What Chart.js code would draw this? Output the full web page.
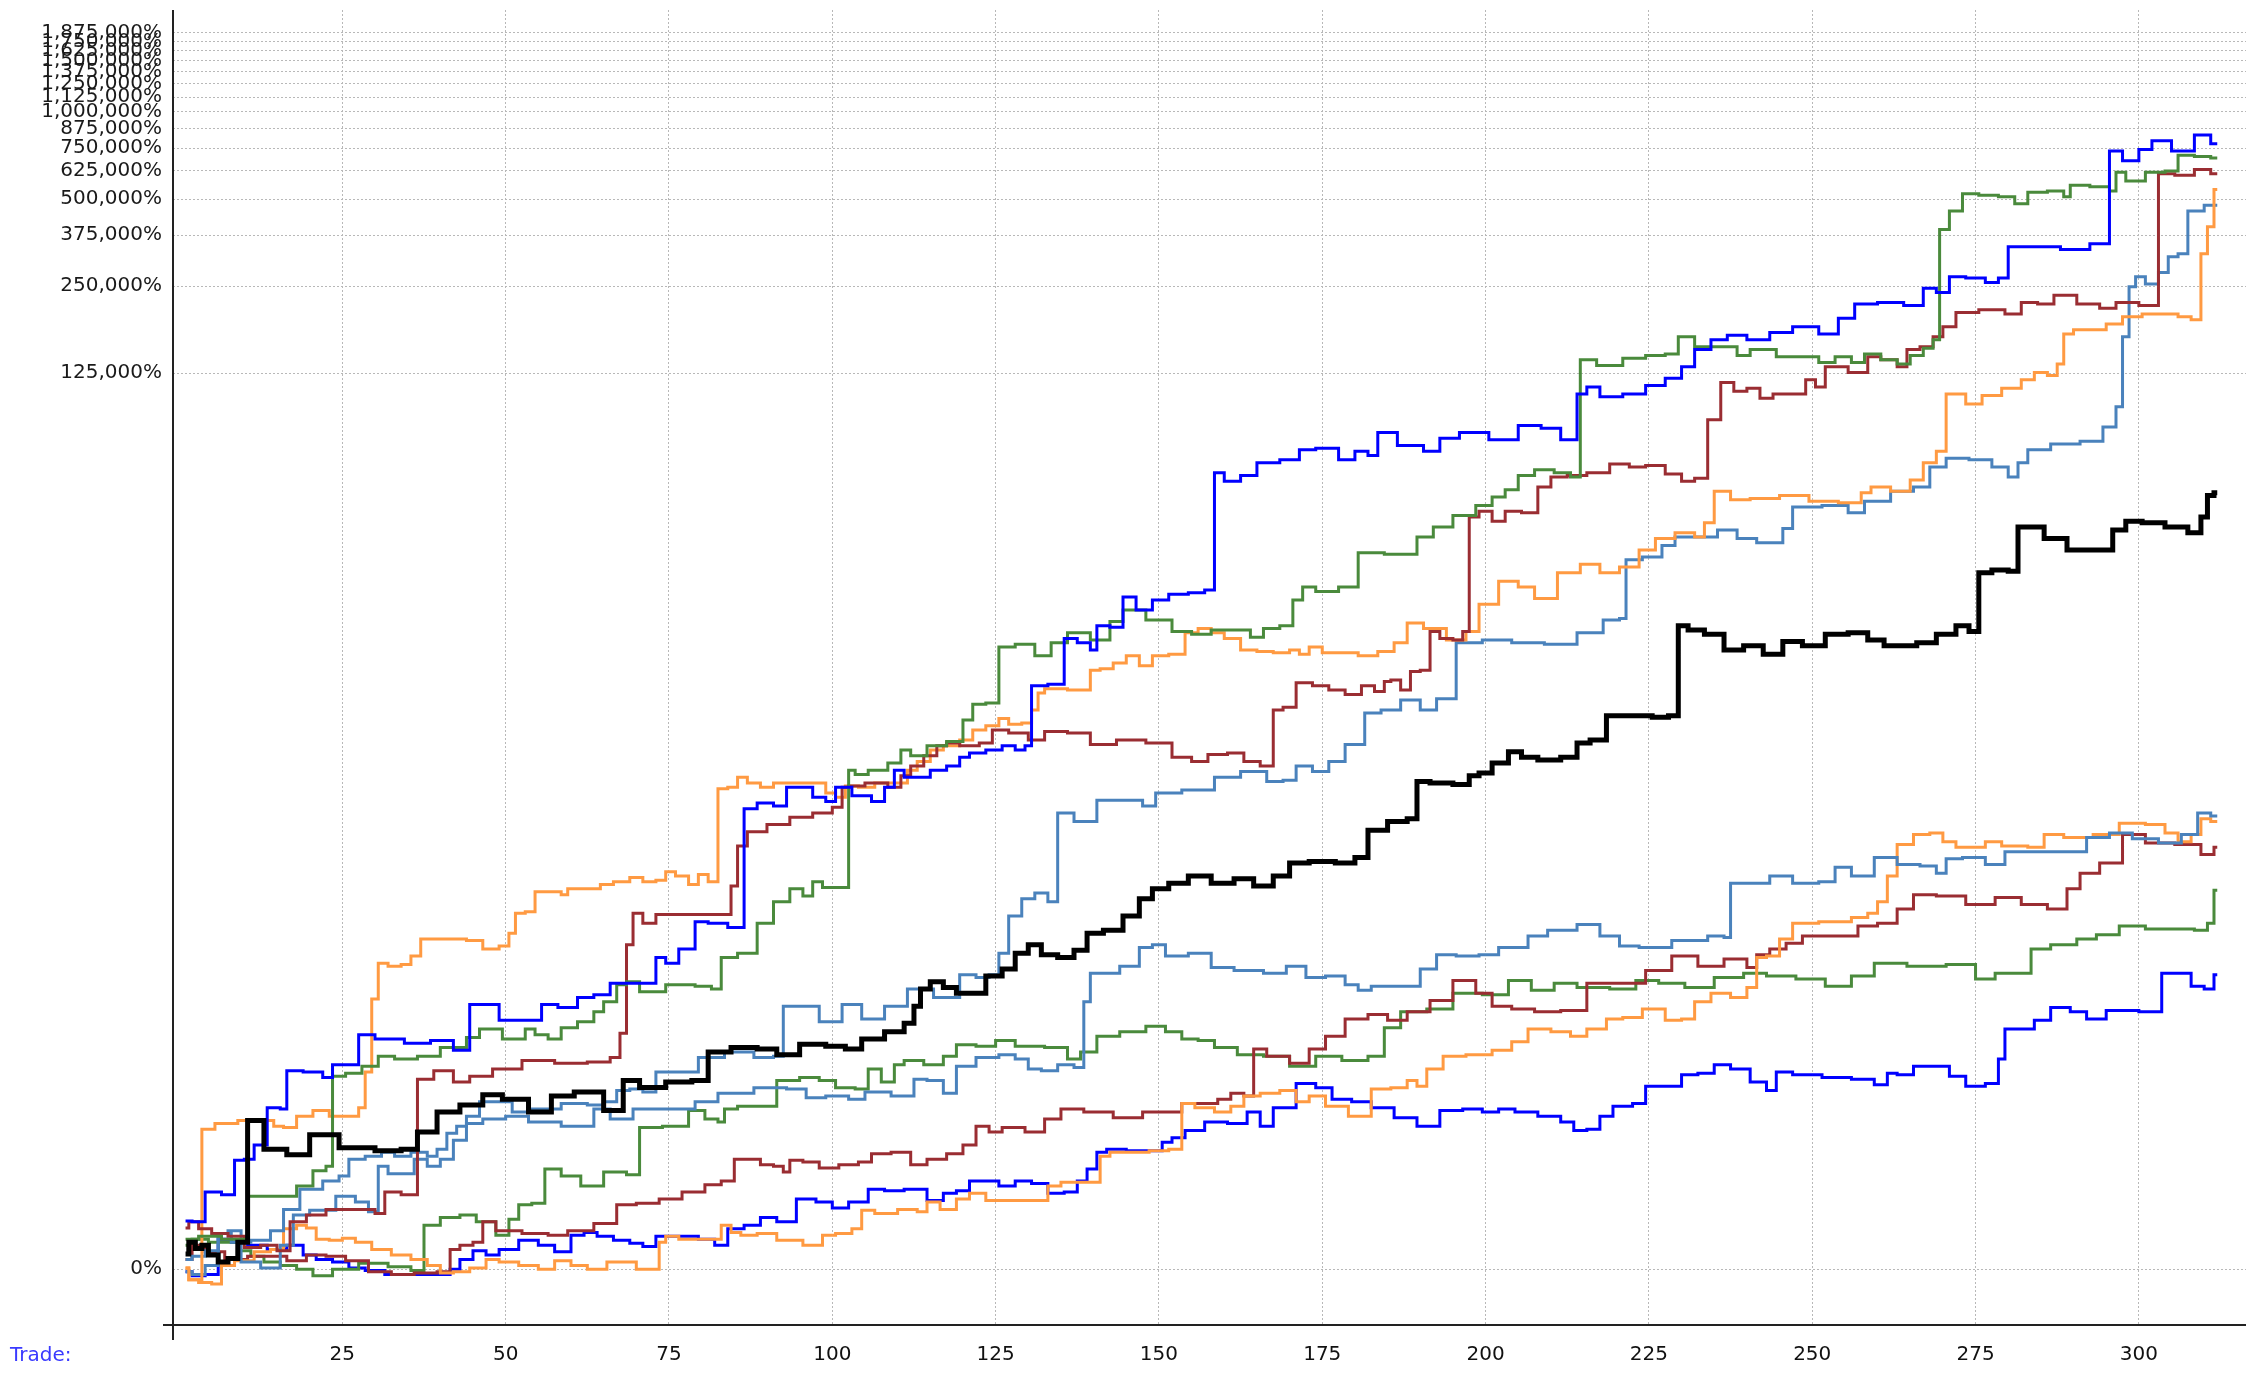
<!DOCTYPE html>
<html>
<head>
<meta charset="utf-8">
<title>Equity curves by trade</title>
<script src="https://cdn.jsdelivr.net/npm/chart.js@4.4.1/dist/chart.umd.min.js"></script>
<style>
  html, body { margin: 0; padding: 0; background: #fff; }
  #wrap { width: 2246px; height: 1373px; position: relative; }
</style>
</head>
<body>
<div id="wrap"><canvas id="equityChart"></canvas></div>
<script>
// each series: [trade number, return in %]
const median = [[1,13],[2,24],[3,18],[4,21],[5,12],[7,6],[8,9],[10,24],[11,227],[15,160],[18,149],[22,192],[27,163],[33,157],[35,160],[38,198],[41,250],[45,270],[48,301],[51,287],[56,250],[58,297],[63,310],[67,254],[69,349],[72,325],[77,344],[80,349],[82,464],[87,484],[90,477],[93,451],[97,500],[101,490],[103,477],[106,525],[110,562],[112,608],[113,712],[114,831],[116,885],[118,841],[120,800],[122,800],[125,931],[127,992],[129,1138],[131,1224],[133,1123],[136,1096],[138,1166],[140,1351],[143,1384],[146,1563],[148,1807],[150,1965],[153,2061],[156,2188],[160,2061],[163,2136],[166,2012],[169,2188],[171,2434],[175,2465],[179,2434],[181,2552],[183,3192],[187,3426],[189,3508],[190,4750],[193,4694],[197,4639],[198,4977],[200,5091],[202,5522],[205,6053],[206,5783],[210,5652],[213,5783],[215,6493],[217,6646],[220,8084],[224,8084],[227,7993],[229,8084],[230,16670],[232,16100],[235,15560],[238,13720],[241,14190],[244,13250],[247,14690],[250,14190],[254,15560],[257,15750],[260,14870],[262,14190],[265,14190],[267,14530],[271,15560],[273,16670],[275,15920],[276,25450],[279,26040],[281,25740],[282,36670],[284,36670],[287,33480],[291,30550],[295,30550],[297,35840],[299,38390],[302,37930],[306,36670],[309,35050],[310,39720],[311,47150],[312,48230]];

const blueHigh = [[1,47],[3,46],[5,85],[8,81],[9,138],[11,140],[12,169],[15,262],[16,258],[17,386],[21,381],[23,360],[24,409],[27,409],[28,547],[32,525],[37,504],[40,518],[44,471],[45,722],[47,722],[51,625],[55,625],[56,722],[60,703],[62,769],[65,789],[67,874],[72,874],[74,1096],[75,1043],[78,1180],[80,1489],[82,1470],[86,1418],[87,3803],[90,3987],[92,3895],[94,4532],[96,4532],[98,4179],[100,4034],[101,4532],[105,4228],[107,4034],[109,4532],[110,5210],[112,4916],[114,4916],[116,5210],[119,5392],[120,5783],[122,5989],[125,6129],[127,6344],[129,6129],[130,6344],[131,10300],[135,10420],[136,15040],[139,14530],[140,13720],[141,16670],[144,16470],[145,20950],[148,18900],[150,20470],[153,21420],[156,21680],[158,22190],[159,56560],[161,52850],[164,55320],[166,61260],[171,62680],[172,67900],[176,68660],[179,62680],[181,67070],[183,64850],[184,77890],[189,70250],[192,67070],[194,74400],[198,77890],[203,73550],[207,82420],[210,80550],[213,73550],[215,105800],[216,112000],[219,103500],[223,105800],[226,113300],[229,120000],[231,131500],[233,150800],[236,163200],[238,168900],[242,163200],[245,172900],[249,180800],[253,170800],[255,193700],[258,217000],[262,219400],[266,214400],[268,246000],[270,237800],[272,269300],[275,266400],[278,257400],[279,266400],[281,342300],[286,342300],[290,334500],[295,349900],[296,733300],[299,677600],[301,742300],[303,794400],[307,733300],[310,831600],[312,776500]];

const greenHigh = [[1,27],[5,30],[8,27],[10,27],[11,79],[17,79],[19,94],[22,119],[23,127],[24,365],[27,376],[29,403],[32,445],[34,433],[39,445],[41,484],[43,484],[45,532],[47,577],[49,577],[50,525],[52,525],[54,577],[55,547],[58,525],[59,584],[63,617],[64,676],[66,740],[68,863],[69,885],[72,810],[77,863],[81,852],[82,831],[84,1096],[87,1138],[90,1470],[92,1764],[95,1965],[96,1852],[98,2086],[99,1988],[102,1988],[103,5210],[104,5032],[107,5210],[110,5522],[111,6129],[113,5850],[116,6344],[119,6568],[121,7810],[122,8870],[125,8968],[126,14040],[130,14360],[132,13100],[135,14530],[137,15750],[142,14870],[143,17250],[146,18900],[150,17440],[154,15920],[156,15560],[160,16100],[163,16100],[165,15200],[167,16290],[170,16670],[171,20470],[173,22700],[175,21930],[180,22700],[181,29870],[188,29520],[191,33830],[193,36670],[197,40180],[200,43520],[202,46610],[204,49360],[206,55320],[209,57860],[212,56560],[214,54670],[215,139200],[219,132900],[223,140800],[226,144000],[229,145700],[230,166900],[234,154300],[238,154300],[239,144000],[242,150800],[247,142400],[250,142400],[252,136000],[255,142400],[257,136000],[259,145700],[262,139200],[264,134500],[266,144000],[268,152500],[269,163200],[270,392200],[272,454900],[274,521000],[277,515600],[280,509600],[282,481700],[284,527400],[288,533300],[289,509600],[290,558000],[295,551700],[296,533300],[297,618200],[299,577600],[303,618200],[305,625300],[307,709000],[310,701100],[312,693100]];

const brownHigh = [[1,39],[2,46],[4,38],[6,33],[9,30],[11,19],[14,21],[16,16],[18,46],[21,54],[24,61],[29,61],[31,56],[32,85],[36,81],[37,354],[41,386],[43,344],[46,365],[50,392],[55,427],[60,415],[65,421],[67,439],[68,554],[69,1224],[70,1601],[72,1470],[74,1582],[84,1582],[85,2012],[86,2805],[88,3155],[92,3347],[95,3548],[99,3674],[101,3851],[102,4532],[103,4585],[107,4694],[110,4532],[111,4977],[113,5392],[115,5850],[117,6344],[118,6493],[121,6344],[124,6493],[125,7204],[129,7044],[131,6646],[134,7122],[138,7044],[141,6418],[146,6646],[150,6493],[154,5783],[156,5589],[159,5920],[162,5989],[164,5589],[167,5392],[168,8469],[170,8665],[172,10540],[175,10300],[177,9950],[180,9602],[182,10300],[184,9830],[185,10660],[186,10780],[188,9950],[189,11540],[191,11670],[192,15920],[194,15040],[196,14870],[197,15920],[198,39720],[200,41590],[202,38390],[204,41590],[207,41110],[209,50470],[211,54670],[214,55320],[217,56560],[221,60580],[223,59220],[226,59850],[229,55930],[231,52850],[233,54060],[235,86250],[237,116000],[239,108300],[241,110800],[243,102300],[245,105800],[248,105800],[250,118500],[251,112000],[253,131500],[258,125600],[259,142400],[262,139200],[264,131500],[265,150800],[268,154300],[269,166900],[271,180800],[273,202600],[278,207300],[281,200300],[283,219400],[286,217000],[288,232400],[293,217000],[295,209500],[298,219400],[302,214400],[304,611300],[307,604700],[310,632400],[312,611300]];

const orangeHigh = [[1,1],[2,-8],[3,-8],[4,205],[7,219],[11,227],[14,227],[15,212],[17,209],[19,238],[22,254],[24,238],[27,238],[28,262],[29,381],[30,759],[31,1043],[33,1016],[35,1030],[36,1109],[38,1286],[43,1286],[45,1270],[48,1180],[50,1209],[51,1351],[52,1601],[54,1621],[55,1919],[58,1919],[59,1872],[60,1965],[64,1965],[65,2036],[68,2086],[70,2161],[72,2086],[74,2109],[75,2267],[77,2188],[79,2036],[80,2213],[82,2086],[83,4480],[85,4532],[86,4916],[88,4694],[90,4532],[92,4694],[98,4694],[100,4328],[101,4179],[103,4585],[105,4532],[108,4694],[111,4694],[112,5210],[114,5589],[116,6129],[118,6344],[121,6646],[122,7204],[125,7460],[126,7905],[128,7547],[130,7628],[131,8469],[132,9721],[133,10060],[139,9950],[140,11670],[142,11810],[144,12370],[146,13100],[148,12080],[150,13100],[153,13250],[155,15750],[157,16290],[159,15750],[161,15040],[164,13720],[166,13550],[169,13410],[171,13720],[172,13250],[174,14040],[176,13410],[179,13410],[182,13100],[185,13550],[187,14530],[189,17040],[192,16290],[196,14870],[198,15920],[200,19790],[204,23770],[206,22700],[209,20710],[213,25450],[216,27260],[219,25450],[222,26650],[225,30550],[227,33480],[231,35050],[233,33830],[234,37930],[236,48780],[239,45550],[242,46070],[248,47150],[251,45030],[257,44530],[258,48230],[260,50470],[264,48780],[266,53400],[268,61260],[270,67070],[271,105800],[272,105800],[275,97810],[277,104700],[281,110800],[283,118500],[285,125600],[287,122800],[288,134500],[289,170800],[291,176700],[294,176700],[296,185000],[299,195800],[302,200300],[305,200300],[307,195800],[309,191400],[310,323200],[311,401200],[312,539700]];

const steelHigh = [[1,8],[3,11],[5,16],[7,33],[9,24],[13,26],[15,36],[17,61],[20,89],[24,102],[25,110],[27,140],[30,146],[32,154],[34,146],[37,154],[39,146],[40,160],[42,195],[43,212],[45,238],[47,279],[50,279],[52,250],[56,258],[61,274],[64,270],[66,279],[68,315],[70,320],[72,310],[74,381],[78,381],[81,439],[86,464],[90,439],[92,445],[93,712],[96,712],[100,617],[103,722],[106,633],[110,712],[113,831],[118,769],[121,943],[123,919],[125,943],[126,1138],[128,1563],[130,1807],[132,1896],[134,1764],[135,3674],[139,3426],[142,4082],[146,4082],[149,3895],[150,4328],[157,4431],[160,4916],[165,5151],[168,4750],[170,4801],[172,5392],[175,5151],[177,5589],[180,6418],[183,8272],[185,8469],[189,9175],[191,8469],[194,9281],[197,14530],[202,14870],[206,14530],[212,14360],[216,15750],[220,17440],[221,17650],[222,28210],[226,28850],[228,31610],[230,33830],[234,33830],[237,35840],[240,33480],[243,32340],[245,32340],[246,36250],[248,43040],[255,43520],[256,41110],[260,45030],[264,48780],[267,50470],[269,59220],[272,63390],[276,62680],[279,59220],[281,54670],[282,61260],[284,67900],[289,71060],[293,72700],[296,81460],[297,95570],[298,166900],[299,248700],[300,269300],[302,254400],[304,278700],[305,315900],[307,323200],[308,454900],[312,476000]];

const steelLow = [[1,-2],[3,-4],[5,3],[7,33],[8,36],[11,6],[14,1],[17,21],[18,54],[22,60],[26,79],[28,71],[30,58],[31,127],[33,114],[35,114],[37,140],[39,127],[41,140],[43,179],[45,219],[48,231],[52,238],[55,223],[62,212],[65,258],[67,231],[72,258],[78,258],[80,279],[85,306],[91,324],[95,320],[97,292],[101,297],[104,287],[106,310],[112,297],[113,354],[116,349],[118,306],[120,403],[124,439],[127,451],[129,433],[131,392],[133,386],[136,409],[138,398],[139,740],[140,955],[142,955],[146,1016],[148,1195],[150,1224],[152,1109],[157,1138],[159,1005],[164,979],[168,955],[171,1016],[174,919],[177,931],[180,863],[181,821],[184,852],[189,852],[191,992],[194,1123],[197,1109],[201,1123],[203,1195],[206,1195],[207,1318],[212,1384],[216,1454],[219,1318],[222,1210],[225,1195],[232,1270],[236,1318],[237,1301],[238,2061],[242,2061],[245,2188],[249,2061],[253,2086],[254,2350],[258,2188],[261,2552],[265,2406],[268,2376],[270,2240],[271,2522],[275,2552],[278,2406],[281,2674],[290,2674],[294,3008],[297,3120],[301,2976],[305,2872],[308,3082],[310,3674],[312,3589]];

const orangeLow = [[1,1],[2,-8],[4,-10],[6,-11],[7,3],[10,7],[13,15],[15,17],[17,38],[19,42],[20,39],[22,27],[24,26],[26,28],[28,24],[31,17],[34,12],[37,8],[39,3],[41,-3],[43,-2],[46,1],[48,8],[50,6],[54,3],[56,0],[59,7],[61,3],[64,0],[67,6],[69,6],[71,0],[73,0],[74,24],[75,30],[78,27],[82,27],[84,42],[85,34],[87,31],[90,33],[93,26],[98,21],[99,31],[102,33],[104,38],[105,60],[108,56],[112,61],[114,58],[115,71],[118,61],[120,75],[122,83],[125,73],[132,73],[134,94],[136,100],[140,100],[142,146],[143,154],[147,154],[150,157],[153,160],[154,274],[157,262],[160,250],[162,266],[164,297],[167,306],[170,315],[172,279],[174,297],[177,266],[181,238],[184,320],[187,324],[189,349],[190,329],[192,392],[195,445],[199,451],[203,471],[205,511],[208,577],[212,562],[214,539],[217,577],[220,633],[222,641],[226,694],[229,625],[231,633],[233,740],[236,800],[239,769],[241,841],[242,1096],[244,1109],[246,1286],[248,1470],[254,1489],[258,1544],[259,1601],[261,1764],[262,2188],[264,2838],[267,3082],[269,3120],[271,2906],[273,2774],[276,2774],[277,2906],[281,2805],[285,2774],[286,3082],[291,3008],[295,3082],[299,3383],[303,3347],[305,3120],[307,2906],[309,3082],[310,3508],[312,3426]];

const brownLow = [[1,8],[3,21],[5,15],[9,8],[12,11],[15,11],[18,7],[21,12],[24,11],[27,7],[31,-2],[34,-4],[38,-3],[41,-2],[42,17],[44,21],[46,24],[47,46],[50,36],[55,33],[58,31],[61,36],[66,44],[68,67],[72,69],[75,75],[79,85],[82,96],[84,102],[86,140],[88,140],[90,130],[92,127],[93,117],[94,138],[97,135],[99,124],[103,130],[105,135],[107,151],[111,154],[113,130],[116,140],[119,151],[121,169],[123,212],[125,198],[127,209],[132,198],[133,231],[137,258],[140,250],[146,234],[149,250],[153,250],[154,274],[158,274],[160,287],[162,306],[164,297],[165,477],[168,445],[172,415],[174,477],[177,539],[180,633],[184,659],[186,625],[190,676],[193,750],[197,896],[200,800],[202,712],[206,694],[209,676],[214,685],[217,874],[223,874],[226,979],[231,1109],[234,1016],[239,1082],[241,1005],[242,1123],[245,1180],[247,1239],[250,1318],[256,1318],[258,1436],[262,1470],[264,1659],[267,1872],[271,1852],[276,1723],[280,1829],[284,1723],[288,1659],[290,1965],[292,2240],[296,2434],[299,3082],[303,2872],[308,2838],[311,2614],[312,2774]];

const greenLow = [[1,21],[3,27],[6,24],[8,24],[10,16],[12,11],[14,6],[17,3],[19,0],[22,-5],[25,0],[30,5],[34,2],[37,-1],[38,42],[42,51],[44,54],[47,46],[50,31],[51,49],[53,67],[55,69],[57,122],[60,110],[63,94],[67,117],[70,112],[71,209],[77,212],[79,254],[82,231],[83,223],[84,258],[87,266],[90,266],[93,349],[97,360],[99,349],[102,324],[105,320],[106,392],[109,344],[110,409],[112,427],[116,409],[118,445],[120,497],[124,490],[126,518],[130,490],[135,484],[137,433],[139,464],[142,539],[146,562],[150,592],[152,562],[155,525],[157,518],[160,484],[164,451],[168,445],[172,403],[176,445],[180,427],[184,445],[185,584],[189,676],[193,694],[197,800],[202,789],[205,896],[209,821],[212,874],[216,841],[222,831],[224,896],[229,874],[232,841],[238,919],[241,955],[245,931],[250,908],[254,852],[258,931],[261,1043],[268,1016],[273,1030],[277,908],[279,955],[283,955],[284,1180],[289,1224],[292,1286],[295,1334],[299,1436],[303,1401],[307,1401],[310,1384],[311,1470],[312,1943]];

const blueLow = [[1,-2],[3,-5],[5,-4],[7,27],[9,24],[12,21],[15,17],[18,21],[20,12],[22,8],[25,6],[27,1],[30,-1],[33,-4],[37,-4],[41,-4],[42,0],[44,8],[46,16],[48,12],[50,17],[54,26],[56,21],[59,15],[61,31],[63,34],[65,30],[68,26],[70,23],[72,20],[74,30],[78,30],[81,27],[83,21],[85,38],[88,42],[90,51],[93,46],[96,75],[99,71],[101,63],[104,71],[107,89],[109,87],[113,89],[116,73],[118,83],[120,87],[122,102],[124,102],[127,94],[129,102],[132,98],[134,83],[137,85],[138,102],[140,122],[141,154],[143,160],[147,157],[150,157],[151,175],[153,185],[155,202],[159,223],[162,219],[165,250],[166,212],[169,262],[173,339],[175,324],[178,287],[181,279],[184,262],[188,234],[191,212],[195,254],[198,258],[201,250],[203,258],[206,250],[210,238],[213,223],[214,202],[217,205],[218,238],[221,266],[224,274],[225,329],[229,329],[231,370],[234,376],[236,409],[239,392],[242,344],[244,315],[245,381],[249,370],[254,360],[258,354],[261,334],[262,376],[264,370],[267,403],[270,403],[272,365],[275,329],[278,339],[279,433],[280,577],[283,577],[285,625],[288,703],[291,676],[293,633],[297,685],[303,676],[304,955],[307,955],[309,852],[311,831],[312,943]];

const yTickPct = [0, 125000, 250000, 375000, 500000, 625000, 750000, 875000, 1000000,
                  1125000, 1250000, 1375000, 1500000, 1625000, 1750000, 1875000];
const xTickTrades = [25, 50, 75, 100, 125, 150, 175, 200, 225, 250, 275, 300];

// plotted on a log scale of the equity multiple (1 + pct/100)
function toPoints(pairs) {
  return pairs.map(p => ({ x: p[0], y: 1 + p[1] / 100 }));
}

const series = [
  { name: 'Median', data: median, color: '#000000', width: 5 },
  { name: 'Run 1', data: blueHigh, color: '#0000ff', width: 3 },
  { name: 'Run 2', data: greenHigh, color: '#4a8a3c', width: 3 },
  { name: 'Run 3', data: brownHigh, color: '#9a2d32', width: 3 },
  { name: 'Run 4', data: orangeHigh, color: '#ff9a42', width: 3 },
  { name: 'Run 5', data: steelHigh, color: '#4a82bc', width: 3 },
  { name: 'Run 6', data: steelLow, color: '#4a82bc', width: 3 },
  { name: 'Run 7', data: orangeLow, color: '#ff9a42', width: 3 },
  { name: 'Run 8', data: brownLow, color: '#9a2d32', width: 3 },
  { name: 'Run 9', data: greenLow, color: '#4a8a3c', width: 3 },
  { name: 'Run 10', data: blueLow, color: '#0000ff', width: 3 }
];

const datasets = series.map(s => ({
  label: s.name,
  data: toPoints(s.data),
  borderColor: s.color,
  borderWidth: s.width,
  pointRadius: 0,
  stepped: 'middle',
  fill: false
}));

// axis lines that stick out past the corner, plus the "Trade:" caption
const axisLines = {
  id: 'axisLines',
  afterDraw(chart) {
    const ctx = chart.ctx;
    const a = chart.chartArea;
    ctx.save();
    ctx.strokeStyle = '#222';
    ctx.lineWidth = 2;
    ctx.beginPath();
    ctx.moveTo(a.left, 10);
    ctx.lineTo(a.left, a.bottom + 15);
    ctx.moveTo(a.left - 10, a.bottom);
    ctx.lineTo(chart.width, a.bottom);
    ctx.stroke();
    ctx.fillStyle = '#3a3aff';
    ctx.font = '20px "DejaVu Sans"';
    ctx.textBaseline = 'middle';
    ctx.textAlign = 'left';
    ctx.fillText('Trade:', 10, 1356);
    ctx.restore();
  }
};

Chart.defaults.font.family = '"DejaVu Sans", sans-serif';

const gridStyle = { color: '#b8b8b8', lineWidth: 1, drawTicks: false };
const borderStyle = { display: false, dash: [2, 2] };

new Chart(document.getElementById('equityChart').getContext('2d'), {
  type: 'line',
  data: { datasets: datasets },
  options: {
    responsive: true,
    maintainAspectRatio: false,
    animation: false,
    devicePixelRatio: 1,
    layout: { padding: { top: 10, left: 0, right: 0, bottom: 0 } },
    plugins: {
      legend: { display: false },
      tooltip: { enabled: false }
    },
    scales: {
      x: {
        type: 'linear',
        min: -0.92,
        max: 316.4,
        bounds: 'data',
        afterBuildTicks: function(scale) {
          scale.ticks = xTickTrades.map(v => ({ value: v }));
        },
        afterFit: function(scale) {
          scale.height = 48;
          scale.paddingLeft = 0;
          scale.paddingRight = 0;
        },
        grid: gridStyle,
        border: borderStyle,
        ticks: {
          padding: 18,
          color: '#111',
          font: { size: 20 },
          maxRotation: 0,
          autoSkip: false
        }
      },
      y: {
        type: 'logarithmic',
        min: 0.6419,
        max: 22510,
        bounds: 'data',
        afterBuildTicks: function(scale) {
          scale.ticks = yTickPct.map(p => ({ value: 1 + p / 100 }));
        },
        afterFit: function(scale) {
          scale.width = 173;
          scale.paddingTop = 0;
          scale.paddingBottom = 0;
        },
        grid: gridStyle,
        border: borderStyle,
        ticks: {
          padding: 11,
          color: '#1a1a1a',
          font: { size: 20 },
          autoSkip: false,
          callback: function(value) {
            return Math.round((value - 1) * 100).toLocaleString('en-US') + '%';
          }
        }
      }
    }
  },
  plugins: [axisLines]
});
</script>
</body>
</html>
